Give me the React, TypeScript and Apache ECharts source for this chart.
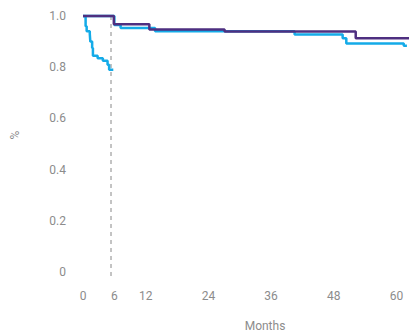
import React, { useEffect, useRef } from "react";
import * as echarts from "echarts";

const xTickLabels = [0, 6, 12, 24, 36, 48, 60];
const earlyArm: [number, number][] = [
  [0, 1.0], [0.5, 0.96], [0.7, 0.94], [1.3, 0.93], [1.4, 0.9], [1.75, 0.875],
  [1.9, 0.845], [2.8, 0.835], [3.8, 0.825], [4.7, 0.81], [5.0, 0.79], [5.8, 0.79],
];
const blueArm: [number, number][] = [
  [0, 1.0], [6.0, 0.965], [7.2, 0.953], [13.8, 0.94], [40.5, 0.928],
  [49.7, 0.913], [50.4, 0.893], [61.4, 0.884], [62.0, 0.884],
];
const purpleArm: [number, number][] = [
  [0, 1.0], [5.9, 0.968], [12.7, 0.947], [27.1, 0.939], [52.2, 0.913], [62.4, 0.913],
];
const cutoffLine: [number, number][] = [[5.36, 1.0], [5.36, -0.024]];

const BLUE = "#14abe8";
const PURPLE = "#4e2f80";
const GRAY = "#8c8c8c";

export default function App() {
  const ref = useRef<HTMLDivElement>(null);
  useEffect(() => {
    document.body.style.margin = "0";
    const chart = echarts.init(ref.current!, undefined, { renderer: "svg" });
    chart.setOption({
      animation: false,
      textStyle: { fontFamily: "Roboto" },
      grid: { left: 83, right: 0, top: 16, bottom: 60, containLabel: false, outerBoundsMode: "none" },
      xAxis: {
        type: "value",
        min: 0,
        max: 62.4,
        interval: 6,
        axisLine: { show: false },
        axisTick: { show: false },
        splitLine: { show: false },
        axisLabel: {
          color: GRAY,
          fontSize: 12,
          margin: 18,
          showMaxLabel: true,
          formatter: (v: number) => (xTickLabels.includes(Math.round(v * 10) / 10) ? String(v) : ""),
        },
        name: "Months",
        nameLocation: "middle",
        nameGap: 48,
        nameTextStyle: { color: GRAY, fontSize: 12, padding: [0, 0, 0, 38] },
      },
      yAxis: {
        type: "value",
        min: 0,
        max: 1,
        interval: 0.2,
        axisLine: { show: false },
        axisTick: { show: false },
        splitLine: { show: false },
        axisLabel: {
          color: GRAY,
          fontSize: 12,
          margin: 17,
          formatter: (v: number) => (v === 0 ? "0" : v.toFixed(1)),
        },
        name: "%",
        nameLocation: "middle",
        nameGap: 62,
        nameTextStyle: { color: GRAY, fontSize: 12, padding: [0, 0, 0, 18] },
      },
      series: [
        {
          type: "line",
          data: cutoffLine,
          clip: false,
          symbol: "none",
          silent: true,
          lineStyle: { color: "#888", width: 1, type: [4, 4] },
        },
        {
          type: "line",
          data: earlyArm,
          step: "end",
          symbol: "none",
          lineStyle: { color: BLUE, width: 2.5 },
        },
        {
          type: "line",
          data: blueArm,
          step: "end",
          symbol: "none",
          clip: false,
          lineStyle: { color: BLUE, width: 2.5 },
        },
        {
          type: "line",
          data: purpleArm,
          step: "end",
          symbol: "none",
          clip: false,
          lineStyle: { color: PURPLE, width: 2.5 },
        },
      ],
    });
    return () => chart.dispose();
  }, []);
  return <div ref={ref} style={{ width: 409, height: 332 }} />;
}
